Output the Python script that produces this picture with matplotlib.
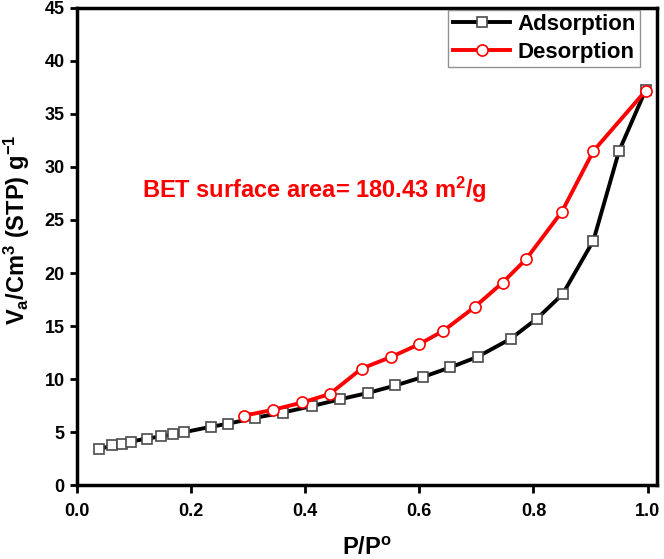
import matplotlib
matplotlib.use("Agg")
import matplotlib.pyplot as plt

plt.rcParams['font.family'] = ['Liberation Sans', 'DejaVu Sans']
plt.rcParams['font.weight'] = 'bold'
plt.rcParams['mathtext.fontset'] = 'custom'
plt.rcParams['mathtext.rm'] = 'Liberation Sans:bold'
plt.rcParams['mathtext.it'] = 'Liberation Sans:bold'
plt.rcParams['mathtext.bf'] = 'Liberation Sans:bold'

# adsorption branch
ads_p = [0.039, 0.062, 0.079, 0.094, 0.122, 0.148, 0.169, 0.188, 0.234, 0.265,
         0.312, 0.361, 0.411, 0.461, 0.51, 0.558, 0.606, 0.654, 0.702, 0.76,
         0.806, 0.851, 0.905, 0.95, 0.997]
ads_v = [3.4, 3.75, 3.9, 4.1, 4.4, 4.6, 4.8, 5.0, 5.5, 5.8,
         6.35, 6.85, 7.45, 8.1, 8.7, 9.4, 10.2, 11.1, 12.1, 13.8,
         15.7, 18.0, 23.05, 31.5, 37.3]

# desorption branch
des_p = [0.292, 0.343, 0.395, 0.443, 0.499, 0.551, 0.6, 0.642, 0.697, 0.746,
         0.787, 0.85, 0.905, 0.997]
des_v = [6.55, 7.1, 7.8, 8.6, 11.0, 12.1, 13.3, 14.55, 16.8, 19.1,
         21.3, 25.8, 31.5, 37.2]

fig = plt.figure(figsize=(6.64, 5.59), dpi=100)
ax = fig.add_axes((0.116, 0.132, 0.873, 0.854))

ax.plot(ads_p, ads_v, color='black', lw=2.8, marker='s', ms=7.5,
        mfc='white', mec='#4a4a4a', mew=1.2, label='Adsorption', zorder=3)
ax.plot(des_p, des_v, color='red', lw=2.8, marker='o', ms=8,
        mfc='white', mec='red', mew=1.2, label='Desorption', zorder=4)

ax.set_xlim(0, 1.016)
ax.set_ylim(0, 45)
ax.set_xticks([0.0, 0.2, 0.4, 0.6, 0.8, 1.0])
ax.set_yticks(range(0, 46, 5))
ax.set_xticklabels(['0.0', '0.2', '0.4', '0.6', '0.8', '1.0'])

for s in ax.spines.values():
    s.set_linewidth(2.5)
ax.tick_params(axis='x', direction='out', length=6, width=2, labelsize=13, pad=7)
ax.tick_params(axis='y', direction='out', length=5, width=2, labelsize=13, pad=4)

ax.set_xlabel('P/P$^o$', fontsize=17, fontweight='bold', labelpad=12)
ax.set_ylabel('V$_a$/Cm$^3$ (STP) g$^{-1}$', fontsize=17, fontweight='bold')
ax.yaxis.set_label_coords(-0.077, 0.535)

ax.text(0.114, 27.8, 'BET surface area= 180.43 m$^2$/g',
        color='red', fontsize=17, fontweight='bold', va='center')

leg = ax.legend(loc='upper right', bbox_to_anchor=(0.971, 0.996), fontsize=16,
                frameon=True, fancybox=False, borderpad=0.2, handlelength=2.6,
                handletextpad=0.3, labelspacing=0.3, borderaxespad=0)
leg.get_frame().set_edgecolor('#777777')
leg.get_frame().set_linewidth(1.0)

fig.savefig('out.png', dpi=100)
